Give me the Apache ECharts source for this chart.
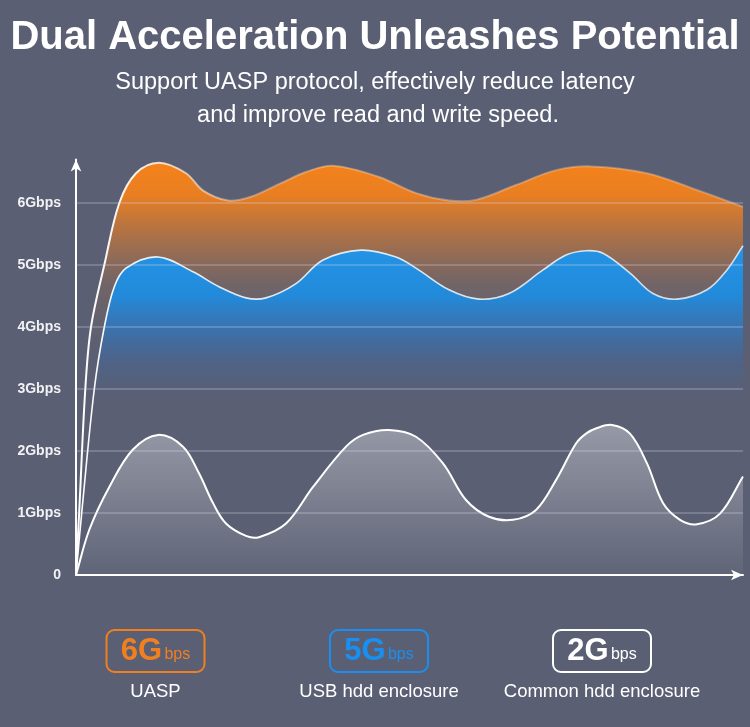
<!DOCTYPE html>
<html>
<head>
<meta charset="utf-8">
<script src="https://cdn.jsdelivr.net/npm/echarts@6/dist/echarts.min.js"></script>
<style>
  html, body { margin: 0; padding: 0; background: #5a5f73; }
  #chart { width: 750px; height: 727px; }
</style>
</head>
<body>
<div id="chart"></div>
<script>
// x positions are arbitrary time units (0..667), values in Gbps
var uasp = [
  [0, 0], [3.3, 1.05], [9.3, 3.0], [15, 4.0], [28.3, 5.0], [43.3, 6.0], [60, 6.48], [83, 6.65],
  [110, 6.48], [127, 6.2], [152, 6.04], [175, 6.1], [205, 6.32], [230, 6.5], [257, 6.6],
  [303, 6.42], [340, 6.16], [373, 6.04], [400, 6.05], [440, 6.29], [480, 6.53], [515, 6.59],
  [571, 6.48], [621, 6.21], [667, 5.94]
];
var usbHdd = [
  [0, 0], [6, 1.05], [18.3, 3.0], [28.3, 4.0], [38.3, 4.65], [50, 4.95], [82, 5.13], [117, 4.89],
  [143, 4.65], [170, 4.47], [190, 4.47], [220, 4.7], [247, 5.08], [285, 5.24], [320, 5.13],
  [340, 4.95], [373, 4.6], [403, 4.45], [433, 4.54], [467, 4.92], [490, 5.16], [510, 5.23],
  [527, 5.19], [554, 4.87], [577, 4.54], [601, 4.45], [631, 4.6], [651, 4.92], [667, 5.31]
];
var commonHdd = [
  [0, 0], [13.3, 0.73], [33.3, 1.42], [56.7, 2.02], [82, 2.26], [107, 2.07], [123, 1.64],
  [137, 1.16], [150, 0.83], [170, 0.63], [183, 0.61], [210, 0.83], [237, 1.42], [270, 2.07],
  [287, 2.26], [313, 2.34], [340, 2.23], [367, 1.8], [390, 1.21], [413, 0.94], [437, 0.89],
  [460, 1.05], [480, 1.53], [500, 2.12], [510, 2.28], [521, 2.37], [536, 2.42], [554, 2.28],
  [571, 1.8], [587, 1.16], [604, 0.89], [621, 0.82], [644, 0.99], [667, 1.59]
];
var gridValues = [1, 2, 3, 4, 5, 6];
var badges = [
  { big: '6G', small: 'bps', name: 'UASP', color: '#f0801f', cx: 155.5 },
  { big: '5G', small: 'bps', name: 'USB hdd enclosure', color: '#1a8ff0', cx: 379 },
  { big: '2G', small: 'bps', name: 'Common hdd enclosure', color: '#ffffff', cx: 602 }
];

var font = '"Liberation Sans", Arial, sans-serif';
var chart = echarts.init(document.getElementById('chart'));

function grad(stops) {
  return new echarts.graphic.LinearGradient(0, 0, 0, 1, stops);
}

// smooth curve through the data points, positioned by the cartesian axes
function curveSeries(points, stroke, width, fill, z) {
  var tension = 0.35;
  return {
    type: 'custom', coordinateSystem: 'cartesian2d', z: z, silent: true,
    data: [points[0]],
    renderItem: function (params, api) {
      var p = points.map(function (d) { return api.coord(d); });
      var n = p.length;
      var cpIn = [], cpOut = [];
      for (var i = 0; i < n; i++) {
        if (i === 0) {
          cpOut[i] = [p[0][0] + (p[1][0] - p[0][0]) * tension, p[0][1] + (p[1][1] - p[0][1]) * tension];
          continue;
        }
        if (i === n - 1) {
          cpIn[i] = [p[i][0] - (p[i][0] - p[i - 1][0]) * tension, p[i][1] - (p[i][1] - p[i - 1][1]) * tension];
          continue;
        }
        var vx = p[i + 1][0] - p[i - 1][0], vy = p[i + 1][1] - p[i - 1][1];
        var l0 = Math.hypot(p[i][0] - p[i - 1][0], p[i][1] - p[i - 1][1]);
        var l1 = Math.hypot(p[i + 1][0] - p[i][0], p[i + 1][1] - p[i][1]);
        var r1 = l1 / (l0 + l1), r0 = l0 / (l0 + l1);
        cpOut[i] = [p[i][0] + vx * tension * r1, p[i][1] + vy * tension * r1];
        cpIn[i] = [p[i][0] - vx * tension * r0, p[i][1] - vy * tension * r0];
      }
      var d = 'M' + p[0][0] + ' ' + p[0][1];
      for (var j = 0; j < n - 1; j++) {
        d += ' C' + cpOut[j][0] + ' ' + cpOut[j][1] + ' ' + cpIn[j + 1][0] + ' ' + cpIn[j + 1][1] +
          ' ' + p[j + 1][0] + ' ' + p[j + 1][1];
      }
      var base = api.coord([0, 0])[1];
      var area = d + ' L' + p[n - 1][0] + ' ' + base + ' L' + p[0][0] + ' ' + base + ' Z';
      return {
        type: 'group',
        children: [
          { type: 'path', shape: { pathData: area }, style: { fill: fill, stroke: null } },
          { type: 'path', shape: { pathData: d }, style: { fill: null, stroke: stroke, lineWidth: width } }
        ]
      };
    }
  };
}

var graphics = [
  {
    type: 'text', x: 375, y: 38,
    style: { text: 'Dual Acceleration Unleashes Potential', fill: '#fff',
      font: 'bold 40px ' + font, align: 'center', verticalAlign: 'middle' }
  },
  {
    type: 'text', x: 375, y: 83,
    style: { text: 'Support UASP protocol, effectively reduce latency',
      fill: '#fff', font: '23.5px ' + font, align: 'center', verticalAlign: 'middle' }
  },
  {
    type: 'text', x: 378, y: 116,
    style: { text: 'and improve read and write speed.',
      fill: '#fff', font: '23.5px ' + font, align: 'center', verticalAlign: 'middle' }
  }
];
badges.forEach(function (b) {
  graphics.push({
    type: 'rect',
    shape: { x: b.cx - 49, y: 630, width: 98, height: 42, r: 8 },
    style: { fill: 'none', stroke: b.color, lineWidth: 2 }
  });
  graphics.push({
    type: 'text', x: b.cx, y: 651,
    style: {
      text: '{a|' + b.big + '}{s| }{b|' + b.small + '}',
      align: 'center', verticalAlign: 'middle',
      rich: {
        a: { fill: b.color, font: 'bold 31px ' + font },
        s: { font: '8px ' + font },
        b: { fill: b.color, font: '16px ' + font, padding: [7, 0, 0, 0] }
      }
    }
  });
  graphics.push({
    type: 'text', x: b.cx, y: 692,
    style: { text: b.name, fill: '#fff', font: '18.5px ' + font,
      align: 'center', verticalAlign: 'middle' }
  });
});

chart.setOption({
  backgroundColor: '#5a5f73',
  animation: false,
  grid: { left: 76, right: 7, top: 159.6, bottom: 152 },
  xAxis: {
    type: 'value', min: 0, max: 667,
    axisLine: { lineStyle: { color: '#fff', width: 2 }, symbol: ['none', 'arrow'], symbolSize: [8, 12] },
    axisTick: { show: false }, axisLabel: { show: false }, splitLine: { show: false }
  },
  yAxis: {
    type: 'value', min: 0, max: 6.7, interval: 1,
    axisLine: { show: true, lineStyle: { color: '#fff', width: 2 }, symbol: ['none', 'arrow'], symbolSize: [8, 12] },
    axisTick: { show: false },
    splitLine: { show: false },
    axisLabel: {
      color: '#f2f2f5', fontWeight: 'bold', fontSize: 14, fontFamily: font, margin: 15,
      formatter: function (v) {
        if (v !== Math.round(v)) return '';
        return v === 0 ? '0' : v + 'Gbps';
      }
    }
  },
  graphic: graphics,
  series: [
    curveSeries(uasp,
      new echarts.graphic.LinearGradient(0, 0, 1, 0, [
        { offset: 0, color: 'rgba(255,255,255,1)' },
        { offset: 0.1, color: 'rgba(255,255,255,0.9)' },
        { offset: 0.25, color: 'rgba(255,210,170,0.45)' },
        { offset: 1, color: 'rgba(255,210,170,0.35)' }
      ]), 2,
      grad([
        { offset: 0, color: 'rgba(245,130,25,1)' },
        { offset: 0.08, color: 'rgba(240,128,30,0.95)' },
        { offset: 0.3, color: 'rgba(200,120,60,0.2)' },
        { offset: 0.45, color: 'rgba(200,120,60,0)' },
        { offset: 1, color: 'rgba(200,120,60,0)' }
      ]), 2),
    curveSeries(usbHdd,
      new echarts.graphic.LinearGradient(0, 0, 1, 0, [
        { offset: 0, color: 'rgba(255,255,255,1)' },
        { offset: 0.15, color: 'rgba(255,255,255,0.85)' },
        { offset: 1, color: 'rgba(255,255,255,0.75)' }
      ]), 1.6,
      grad([
        { offset: 0, color: 'rgba(35,148,230,1)' },
        { offset: 0.15, color: 'rgba(30,140,225,0.95)' },
        { offset: 0.25, color: 'rgba(35,125,210,0.65)' },
        { offset: 0.35, color: 'rgba(50,110,185,0.3)' },
        { offset: 0.47, color: 'rgba(60,100,160,0)' },
        { offset: 1, color: 'rgba(60,100,160,0)' }
      ]), 3),
    curveSeries(commonHdd, '#ffffff', 2,
      grad([
        { offset: 0, color: 'rgba(190,192,200,0.6)' },
        { offset: 1, color: 'rgba(190,192,200,0.05)' }
      ]), 4),
    {
      // horizontal guide lines at each whole Gbps, drawn over the areas
      type: 'line', data: [], z: 5, silent: true,
      markLine: {
        silent: true, symbol: 'none', label: { show: false },
        lineStyle: { color: 'rgba(220,220,235,0.32)', type: 'solid', width: 1.5 },
        data: gridValues.map(function (v) { return { yAxis: v }; })
      }
    }
  ]
});
</script>
</body>
</html>
